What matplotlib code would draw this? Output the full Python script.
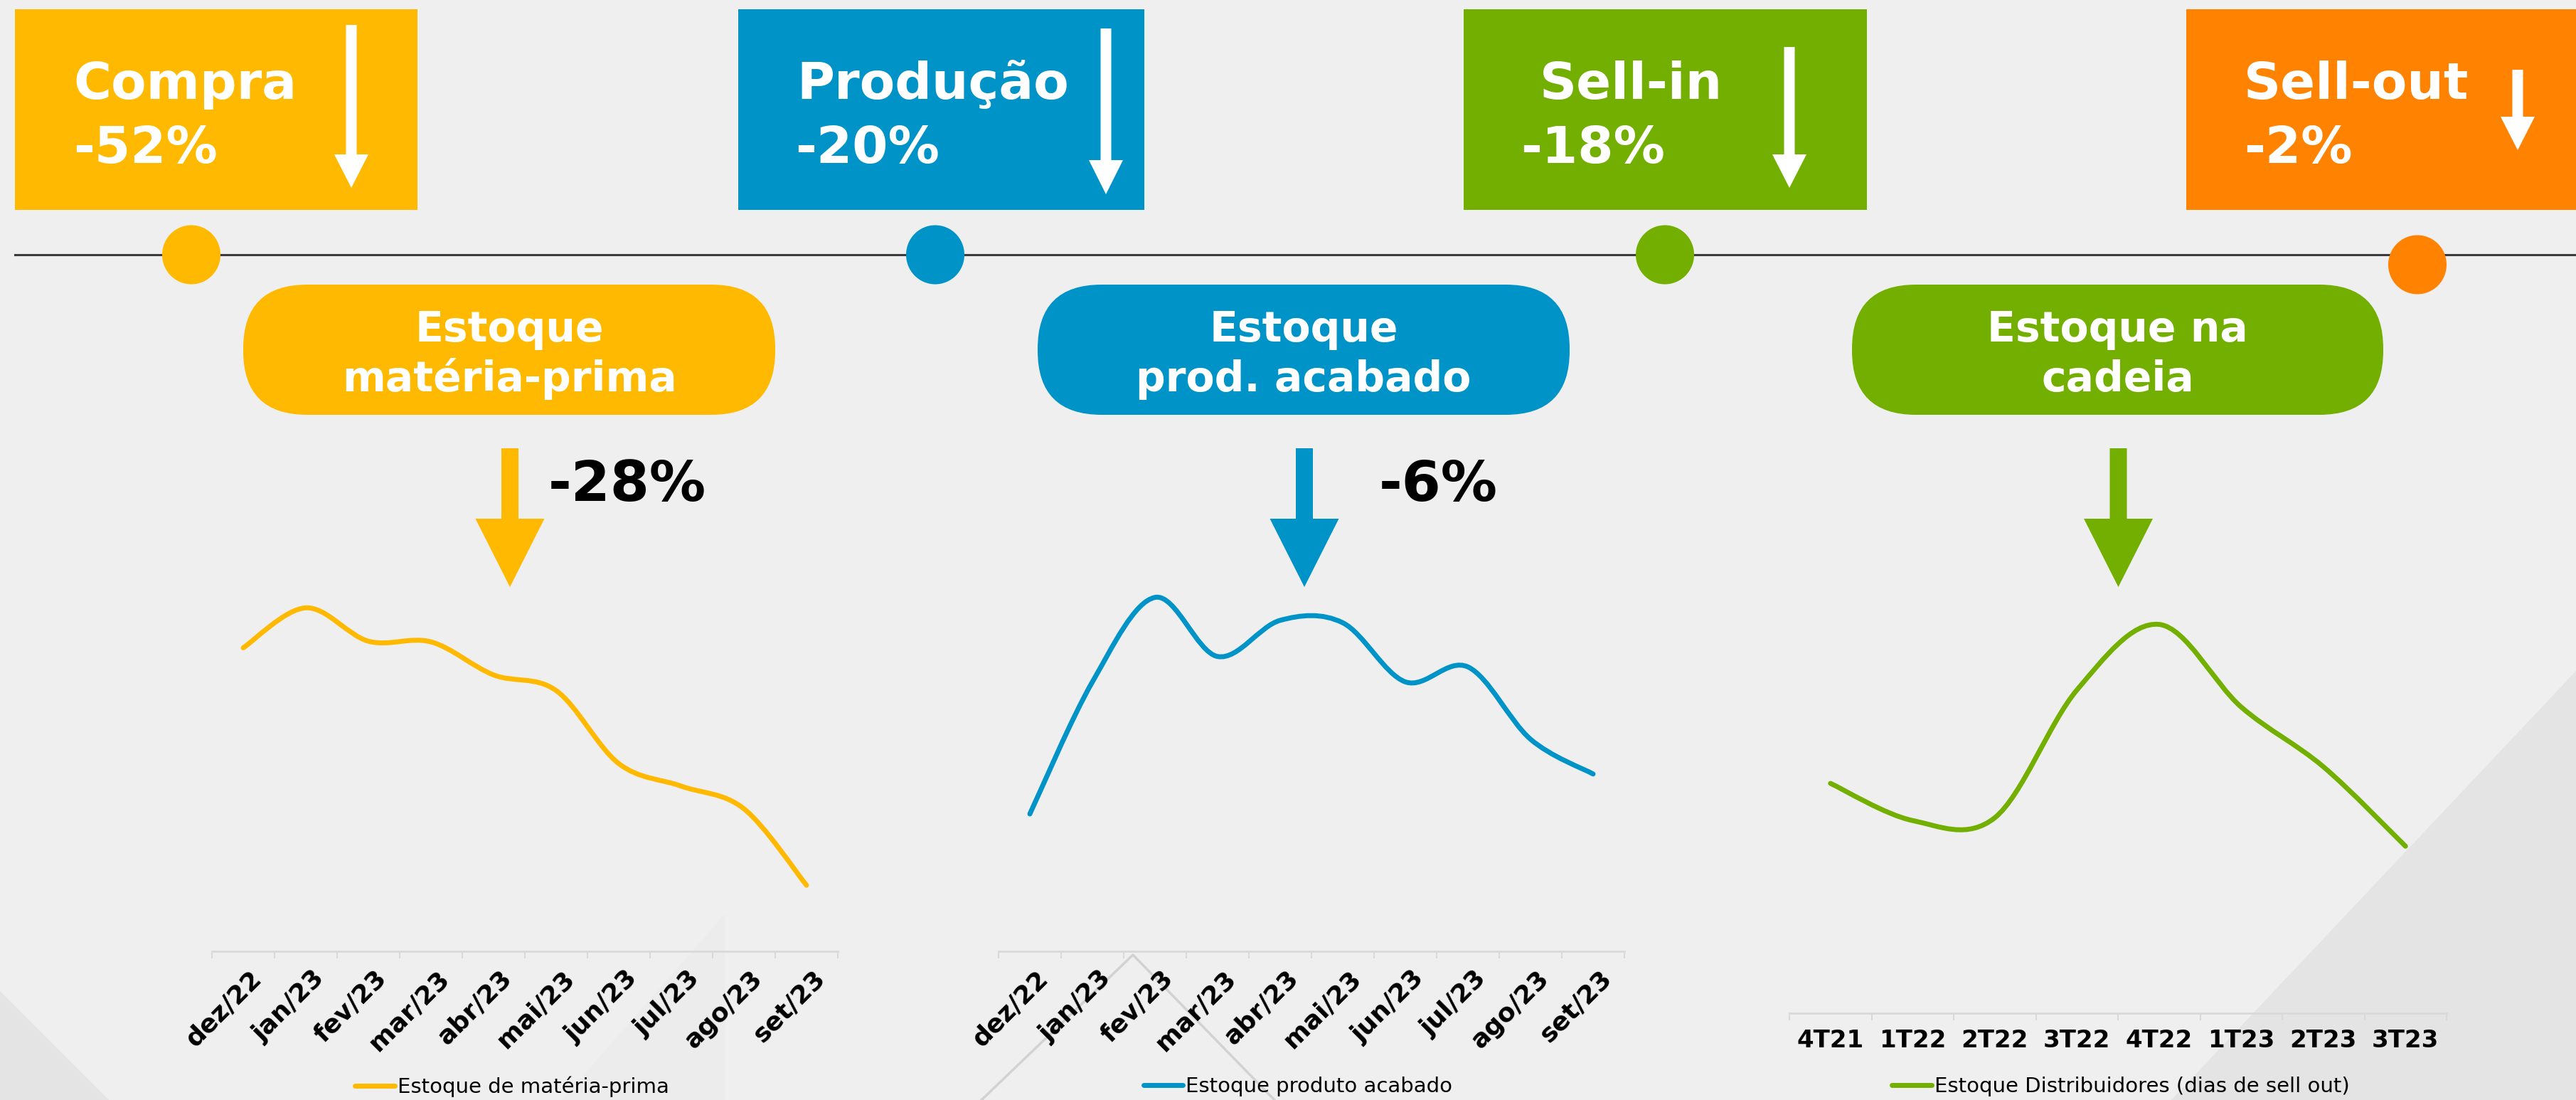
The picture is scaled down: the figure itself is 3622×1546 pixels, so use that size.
import matplotlib
matplotlib.use("Agg")
import matplotlib.pyplot as plt
from matplotlib.path import Path
from matplotlib.patches import PathPatch, Polygon, FancyBboxPatch, Ellipse, Rectangle
from matplotlib.lines import Line2D
import matplotlib.transforms as mtransforms
import numpy as np

# ---- data ----
meses = ["dez/22", "jan/23", "fev/23", "mar/23", "abr/23",
         "mai/23", "jun/23", "jul/23", "ago/23", "set/23"]
materia_prima = [873, 988, 892, 890, 795, 750, 540, 475, 410, 190]
produto_acabado = [395, 775, 1018, 848, 952, 945, 775, 818, 610, 510]

trimestres = ["4T21", "1T22", "2T22", "3T22", "4T22", "1T23", "2T23", "3T23"]
distribuidores = [662, 555, 563, 931, 1120, 882, 710, 481]

etapas = ["Compra", "Produção", "Sell-in", "Sell-out"]
variacao_etapa = ["-52%", "-20%", "-18%", "-2%"]
estoques = ["Estoque\nmatéria-prima", "Estoque\nprod. acabado", "Estoque na\ncadeia"]
variacao_estoque = ["-28%", "-6%", ""]
legendas = ["Estoque de matéria-prima", "Estoque produto acabado",
            "Estoque Distribuidores (dias de sell out)"]

# ---- style ----
W, H = 3622, 1546
BG = "#EFEFEF"
YELLOW = "#FFB900"
BLUE = "#0093C8"
GREEN = "#72AF00"
ORANGE = "#FF8200"
AXIS = "#D9D9D9"

fig = plt.figure(figsize=(W / 100, H / 100), dpi=100, facecolor=BG)
bg = fig.add_axes([0, 0, 1, 1])
bg.set_xlim(0, W)
bg.set_ylim(H, 0)
bg.axis("off")
bg.set_zorder(0)

# faint background shapes
bg.add_patch(Polygon([(W, 943), (3053, H), (W, H)], fc="#E4E4E4", ec="none"))
bg.add_patch(Polygon([(0, 1393), (153, H), (0, H)], fc="#E4E4E4", ec="none"))
bg.add_patch(Polygon([(1019, 1285), (1019, H), (790, H)], fc="#ECECEC", ec="none"))
bg.plot([1380, 1593, 1792], [H, 1342, H], color="#D2D2D2", lw=2.5)


def down_arrow(cx, top, head_start, tip, shaft_w, head_w, color):
    pts = [(cx - shaft_w / 2, top), (cx + shaft_w / 2, top),
           (cx + shaft_w / 2, head_start), (cx + head_w / 2, head_start),
           (cx, tip), (cx - head_w / 2, head_start), (cx - shaft_w / 2, head_start)]
    bg.add_patch(Polygon(pts, closed=True, fc=color, ec="none", zorder=3))


# timeline
bg.plot([21, W], [358, 358], color="#3A3A3A", lw=2.2, zorder=1)

# top boxes
box_x = [(21, 587), (1038, 1609), (2058, 2625), (3074, W)]
box_colors = [YELLOW, BLUE, GREEN, ORANGE]
name_x = [103, 1120, 2165, 3155]
pct_x = [103, 1118, 2138, 3155]
box_arrows = [(494, 35, 217, 264), (1555, 40, 225, 273),
              (2516, 66, 217, 264), (3540, 98, 164, 211)]
dots = [(269, 358), (1315, 358), (2341, 358), (3399, 372)]

for i in range(4):
    x0, x1 = box_x[i]
    bg.add_patch(Rectangle((x0, 13), x1 - x0, 282, fc=box_colors[i], ec="none", zorder=2))
    bg.text(name_x[i], 139, etapas[i], color="white", fontsize=52,
            fontweight="bold", va="baseline", ha="left", zorder=4)
    bg.text(pct_x[i], 229, variacao_etapa[i], color="white", fontsize=52,
            fontweight="bold", va="baseline", ha="left", zorder=4)
    cx, top, hs, tip = box_arrows[i]
    down_arrow(cx, top, hs, tip, 15, 48, "white")
    bg.add_patch(Ellipse(dots[i], 82, 83, fc=box_colors[i], ec="none", zorder=3))

# pills
pill_x = [(342, 1090), (1459, 2207), (2604, 3351)]
pill_colors = [YELLOW, BLUE, GREEN]
for i in range(3):
    x0, x1 = pill_x[i]
    bg.add_patch(FancyBboxPatch((x0, 400), x1 - x0, 183,
                                boxstyle="round,pad=0,rounding_size=90",
                                fc=pill_colors[i], ec="none", zorder=2))
    cx = (x0 + x1) / 2
    for j, line in enumerate(estoques[i].split("\n")):
        bg.text(cx, 480 + 70 * j, line, color="white", fontsize=42,
                fontweight="bold", ha="center", va="baseline", zorder=4)
    down_arrow(cx + 1, 630, 729, 825, 24, 97, pill_colors[i])
    if variacao_estoque[i]:
        bg.text(cx + 55 if i == 0 else cx + 106, 704, variacao_estoque[i], color="black",
                fontsize=57, fontweight="bold", ha="left", va="baseline", zorder=4)


def smooth_path(x, y):
    pts = np.column_stack([x, y]).astype(float)
    n = len(pts)
    verts = [pts[0]]
    codes = [Path.MOVETO]
    for i in range(n - 1):
        p0 = pts[max(i - 1, 0)]
        p1 = pts[i]
        p2 = pts[i + 1]
        p3 = pts[min(i + 2, n - 1)]
        verts += [p1 + (p2 - p0) / 6, p2 - (p3 - p1) / 6, p2]
        codes += [Path.CURVE4] * 3
    return Path(verts, codes)


def draw_chart(x0, x1, ytop, ybot, labels, values, color, label, ymax, rotate, legend_cx):
    ax = fig.add_axes([x0 / W, 1 - ybot / H, (x1 - x0) / W, (ybot - ytop) / H])
    ax.set_zorder(2)
    ax.patch.set_alpha(0)
    x = np.arange(len(values))
    ax.add_patch(PathPatch(smooth_path(x, values), fill=False, edgecolor=color,
                           lw=5, capstyle="round", joinstyle="round", clip_on=False))
    ax.set_xlim(-0.5, len(values) - 0.5)
    ax.set_ylim(0, ymax)
    for s in ["top", "right", "left"]:
        ax.spines[s].set_visible(False)
    ax.spines["bottom"].set_color(AXIS)
    ax.spines["bottom"].set_linewidth(2)
    ax.set_yticks([])
    ax.set_xticks(x)
    ax.set_xticks(np.arange(len(values) + 1) - 0.5, minor=True)
    ax.tick_params(axis="x", which="minor", length=7.2, width=1.5, color=AXIS)
    if rotate:
        ax.tick_params(axis="x", which="major", length=0, pad=15, labelsize=26)
        ax.set_xticklabels(labels, rotation=45, ha="right", rotation_mode="anchor",
                           fontweight="bold")
        offset = mtransforms.ScaledTranslation(8 / 100, 0, fig.dpi_scale_trans)
        for t in ax.get_xticklabels():
            t.set_transform(t.get_transform() + offset)
    else:
        ax.tick_params(axis="x", which="major", length=0, pad=16, labelsize=24.5)
        ax.set_xticklabels(labels, fontweight="bold")
    handle = Line2D([], [], color=color, lw=5, solid_capstyle="round")
    ax.legend([handle], [label], loc="center", bbox_to_anchor=(legend_cx / W, 1 - 1527 / H),
              bbox_transform=fig.transFigure, frameon=False, fontsize=21,
              handlelength=1.9, handletextpad=0.15, borderpad=0)
    return ax


draw_chart(298, 1178, 780, 1337, meses, materia_prima, YELLOW, legendas[0], 1140, True, 720)
draw_chart(1404, 2284, 780, 1337, meses, produto_acabado, BLUE, legendas[1], 1140, True, 1825)
draw_chart(2516, 3440, 780, 1424, trimestres, distribuidores, GREEN, legendas[2], 1320, False, 2982)

fig.savefig("out.png", dpi=100, facecolor=BG)
